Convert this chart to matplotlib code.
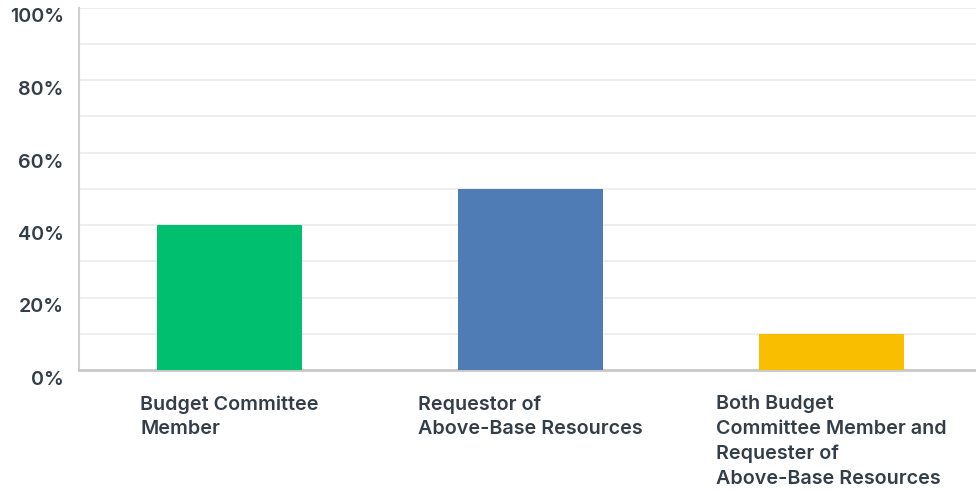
import matplotlib
matplotlib.use("Agg")
import matplotlib.pyplot as plt
import matplotlib.transforms as mtransforms
from matplotlib.ticker import MultipleLocator, FixedLocator

categories = [
    "Budget Committee\nMember",
    "Requestor of\nAbove-Base Resources",
    "Both Budget\nCommittee Member and\nRequester of\nAbove-Base Resources",
]
values = [40, 50, 10]
colors = ["#00bf6f", "#507cb6", "#f9be00"]
ytick_vals = [0, 20, 40, 60, 80, 100]

plt.rcParams["font.family"] = ["Inter", "DejaVu Sans"]
text_color = "#333e48"

fig = plt.figure(figsize=(9.76, 4.91), dpi=100)
ax = fig.add_axes([79 / 976, 121 / 491, 903 / 976, 362.5 / 491])

x = range(len(categories))
ax.bar(x, values, width=0.48, color=colors, zorder=3)

ax.set_xlim(-0.5, 2.5)
ax.set_ylim(0, 100)
ax.yaxis.set_major_locator(FixedLocator(ytick_vals))
ax.yaxis.set_minor_locator(MultipleLocator(10))
ax.set_yticklabels([f"{v}%" for v in ytick_vals])
ax.grid(axis="y", which="both", color="#ebebeb", linewidth=1.2, zorder=0)
ax.tick_params(axis="y", which="both", length=0, pad=11, labelsize=14.2, labelcolor=text_color)

ax.set_xticks(list(x))
ax.set_xticklabels(categories, ha="center", multialignment="left", linespacing=1.49)
ax.tick_params(axis="x", length=0, pad=18, labelsize=14.2, labelcolor=text_color)
for lab in ax.get_xticklabels() + ax.get_yticklabels():
    lab.set_fontweight("semibold")

offset = mtransforms.ScaledTranslation(0, -8 / 100, fig.dpi_scale_trans)
for lab in ax.get_yticklabels():
    lab.set_transform(lab.get_transform() + offset)

for side in ["top", "right"]:
    ax.spines[side].set_visible(False)
ax.spines["left"].set_color("#d0d0d0")
ax.spines["left"].set_linewidth(1.5)
ax.spines["bottom"].set_color("#c8c8c8")
ax.spines["bottom"].set_linewidth(2)

fig.savefig("out.png", dpi=100)
